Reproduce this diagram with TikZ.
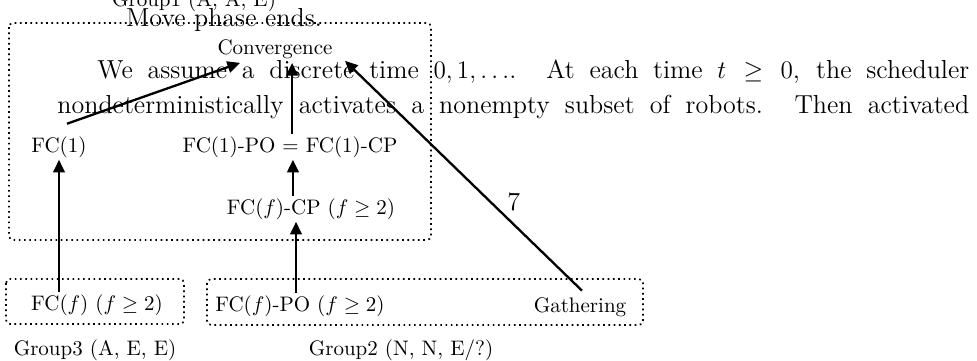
\documentclass[tikz,border=0pt]{standalone}
\usetikzlibrary{arrows.meta,calc}
\begin{document}
\begin{tikzpicture}[x=0.476pt,y=-0.476pt,
  lbl/.style={font=\fontsize{10}{12}\selectfont, inner sep=1pt, anchor=base},
  big/.style={font=\fontsize{12.4}{15}\selectfont, inner sep=0pt, anchor=base west},
  grp/.style={draw, line width=0.8pt, dash pattern=on 0.8pt off 1.7pt, rounded corners=2pt},
  arr/.style={line width=1.1pt, -{Triangle[length=6pt,width=5.5pt]}}]
\useasboundingbox (0,0) rectangle (977,360);

% group boxes
\draw[grp] (9,23) rectangle (431,240);
\draw[grp] (6,279) rectangle (184,324);
\draw[grp] (207,279) rectangle (643,325);

% labels and nodes
\node[lbl] (g1) at (194,6) {Group1 (A, A, E)};
\node[big, anchor=base] (mpe) at (224,26) {Move phase ends.};
\node[lbl] (conv) at (275,54) {Convergence};
\node[big] (p1) at (97,78) {\makebox[415pt][s]{We assume a discrete time $0,1,\ldots$. At each time $t\geq 0$, the scheduler}};
\node[big] (p2) at (57,113) {\makebox[434pt][s]{nondeterministically activates a nonempty subset of robots. Then activated}};
\node[lbl] (fc1) at (59,152) {FC(1)};
\node[lbl] (fc1po) at (290,152) {FC(1)-PO $=$ FC(1)-CP};
\node[lbl] (fcfcp) at (311,214) {FC($f$)-CP ($f \geq 2$)};
\node[lbl] (fcf) at (97,310) {FC($f$) ($f \geq 2$)};
\node[lbl] (fcfpo) at (300,311) {FC($f$)-PO ($f \geq 2$)};
\node[lbl] (gath) at (580,312) {Gathering};
\node[lbl] (g3) at (95,355) {Group3 (A, E, E)};
\node[lbl] (g2) at (401,355) {Group2 (N, N, E/?)};

% connectors
\draw[arr] (fcf.north -| fc1.south) -- (fc1.south);
\draw[arr] ($(fc1.north)+(8,-10)$) -- ($(conv.south)+(-35,2)$);
\draw[arr] ([xshift=-1.9pt]fcfpo.north) -- ([xshift=-1.9pt]fcfpo.north |- fcfcp.south);
\draw[arr] ([xshift=1.4pt]fc1po.south |- fcfcp.north) -- ([xshift=1.4pt]fc1po.south);
\draw[arr] ([xshift=1pt]fc1po.north) -- ([xshift=1pt,yshift=-1pt]fc1po.north |- conv.south);
\draw[arr] ($(gath.north)+(2,-4)$) -- node[pos=0.337, above right, xshift=-1.4pt, yshift=-2.8pt, font=\fontsize{12.4}{15}\selectfont] (seven) {7} ($(conv.south east)+(10,0)$);
\end{tikzpicture}
\end{document}
